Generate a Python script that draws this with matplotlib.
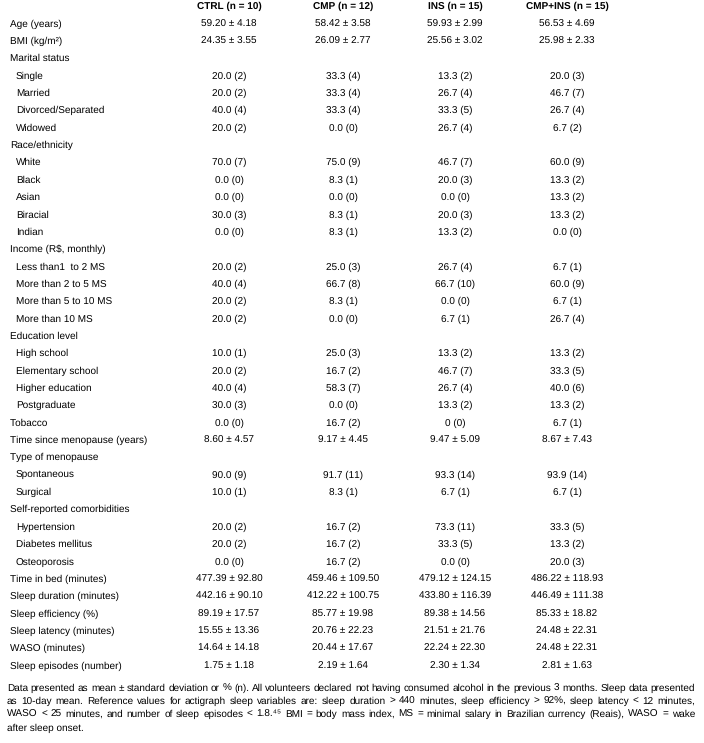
import matplotlib
matplotlib.use('Agg')
import matplotlib.pyplot as plt

plt.rcParams['font.family'] = ['Liberation Sans', 'DejaVu Sans']
plt.rcParams['text.hinting'] = 'no_hinting'
plt.rcParams['text.hinting_factor'] = 1

# Table content
headers = ["CTRL (n = 10)", "CMP (n = 12)", "INS (n = 15)", "CMP+INS (n = 15)"]

labels = [
    "Age (years)", "BMI (kg/m²)", "Marital status", "Single", "Married",
    "Divorced/Separated", "Widowed", "Race/ethnicity", "White", "Black", "Asian",
    "Biracial", "Indian", "Income (R$, monthly)", "Less than1  to 2 MS",
    "More than 2 to 5 MS", "More than 5 to 10 MS", "More than 10 MS",
    "Education level", "High school", "Elementary school", "Higher education",
    "Postgraduate", "Tobacco", "Time since menopause (years)", "Type of menopause",
    "Spontaneous", "Surgical", "Self-reported comorbidities", "Hypertension",
    "Diabetes mellitus", "Osteoporosis", "Time in bed (minutes)",
    "Sleep duration (minutes)", "Sleep efficiency (%)", "Sleep latency (minutes)",
    "WASO (minutes)", "Sleep episodes (number)",
]

# 1 = sub-item (indented)
indent = [0, 0, 0, 1, 1, 1, 1, 0, 1, 1, 1, 1, 1, 0, 1, 1, 1, 1,
          0, 1, 1, 1, 1, 0, 0, 0, 1, 1, 0, 1, 1, 1, 0, 0, 0, 0, 0, 0]

ctrl = ["59.20 ± 4.18", "24.35 ± 3.55", "", "20.0 (2)", "20.0 (2)", "40.0 (4)",
        "20.0 (2)", "", "70.0 (7)", "0.0 (0)", "0.0 (0)", "30.0 (3)", "0.0 (0)", "",
        "20.0 (2)", "40.0 (4)", "20.0 (2)", "20.0 (2)", "", "10.0 (1)", "20.0 (2)",
        "40.0 (4)", "30.0 (3)", "0.0 (0)", "8.60 ± 4.57", "", "90.0 (9)", "10.0 (1)",
        "", "20.0 (2)", "20.0 (2)", "0.0 (0)", "477.39 ± 92.80", "442.16 ± 90.10",
        "89.19 ± 17.57", "15.55 ± 13.36", "14.64 ± 14.18", "1.75 ± 1.18"]

cmp_ = ["58.42 ± 3.58", "26.09 ± 2.77", "", "33.3 (4)", "33.3 (4)", "33.3 (4)",
        "0.0 (0)", "", "75.0 (9)", "8.3 (1)", "0.0 (0)", "8.3 (1)", "8.3 (1)", "",
        "25.0 (3)", "66.7 (8)", "8.3 (1)", "0.0 (0)", "", "25.0 (3)", "16.7 (2)",
        "58.3 (7)", "0.0 (0)", "16.7 (2)", "9.17 ± 4.45", "", "91.7 (11)", "8.3 (1)",
        "", "16.7 (2)", "16.7 (2)", "16.7 (2)", "459.46 ± 109.50", "412.22 ± 100.75",
        "85.77 ± 19.98", "20.76 ± 22.23", "20.44 ± 17.67", "2.19 ± 1.64"]

ins = ["59.93 ± 2.99", "25.56 ± 3.02", "", "13.3 (2)", "26.7 (4)", "33.3 (5)",
       "26.7 (4)", "", "46.7 (7)", "20.0 (3)", "0.0 (0)", "20.0 (3)", "13.3 (2)", "",
       "26.7 (4)", "66.7 (10)", "0.0 (0)", "6.7 (1)", "", "13.3 (2)", "46.7 (7)",
       "26.7 (4)", "13.3 (2)", "0 (0)", "9.47 ± 5.09", "", "93.3 (14)", "6.7 (1)",
       "", "73.3 (11)", "33.3 (5)", "0.0 (0)", "479.12 ± 124.15", "433.80 ± 116.39",
       "89.38 ± 14.56", "21.51 ± 21.76", "22.24 ± 22.30", "2.30 ± 1.34"]

cmp_ins = ["56.53 ± 4.69", "25.98 ± 2.33", "", "20.0 (3)", "46.7 (7)", "26.7 (4)",
           "6.7 (2)", "", "60.0 (9)", "13.3 (2)", "13.3 (2)", "13.3 (2)", "0.0 (0)", "",
           "6.7 (1)", "60.0 (9)", "6.7 (1)", "26.7 (4)", "", "13.3 (2)", "33.3 (5)",
           "40.0 (6)", "13.3 (2)", "6.7 (1)", "8.67 ± 7.43", "", "93.9 (14)", "6.7 (1)",
           "", "33.3 (5)", "13.3 (2)", "20.0 (3)", "486.22 ± 118.93", "446.49 ± 111.38",
           "85.33 ± 18.82", "24.48 ± 22.31", "24.48 ± 22.31", "2.81 ± 1.63"]

footnote = [
    "Data presented as mean ± standard deviation or % (n). All volunteers declared not having consumed alcohol in the previous 3 months. Sleep data presented",
    "as 10-day mean. Reference values for actigraph sleep variables are: sleep duration > 440 minutes, sleep efficiency > 92%, sleep latency < 12 minutes,",
    "WASO < 25 minutes, and number of sleep episodes < 1.8.⁴⁵ BMI = body mass index, MS = minimal salary in Brazilian currency (Reais), WASO = wake",
    "after sleep onset.",
]

W, H = 704, 743
fig = plt.figure(figsize=(W / 100, H / 100), dpi=100)
fig.patch.set_facecolor('white')
ax = fig.add_axes([0, 0, 1, 1])
ax.set_xlim(0, W)
ax.set_ylim(H, 0)
ax.axis('off')

fs = 7.3
col_x = [229, 343, 455, 567]
header_y = 6
row0_y = 24
row_h = 17.35
label_x = 10
indent_w = 6

for x, h in zip(col_x, headers):
    ax.text(x, header_y, h, ha='center', va='center', fontsize=fs, fontweight='bold')

columns = [ctrl, cmp_, ins, cmp_ins]
for i, lab in enumerate(labels):
    y = row0_y + i * row_h
    ax.text(label_x + indent_w * indent[i], y, lab, ha='left', va='center', fontsize=fs)
    for x, col in zip(col_x, columns):
        if col[i]:
            ax.text(x, y, col[i], ha='center', va='center', fontsize=fs)

# footnote, justified like the journal layout
fig.canvas.draw()
renderer = fig.canvas.get_renderer()
foot_y = 688
foot_h = 13.3
left, right = 7, 695

# size the footnote so its first line just fills the width
probe = ax.text(0, 0, footnote[0], fontsize=fs)
nat = probe.get_window_extent(renderer).width
probe.remove()
foot_fs = fs * (right - left) / nat * 0.985

for k, line in enumerate(footnote):
    y = foot_y + k * foot_h
    if k == len(footnote) - 1:
        ax.text(left, y, line, ha='left', va='center', fontsize=foot_fs)
        continue
    words = line.split(' ')
    objs = [ax.text(0, y, w, ha='left', va='center', fontsize=foot_fs) for w in words]
    widths = [o.get_window_extent(renderer).width for o in objs]
    gap = (right - left - sum(widths)) / (len(words) - 1)
    x = left
    for o, w in zip(objs, widths):
        o.set_x(x)
        x += w + gap

fig.savefig('out.png', dpi=100, facecolor='white')
